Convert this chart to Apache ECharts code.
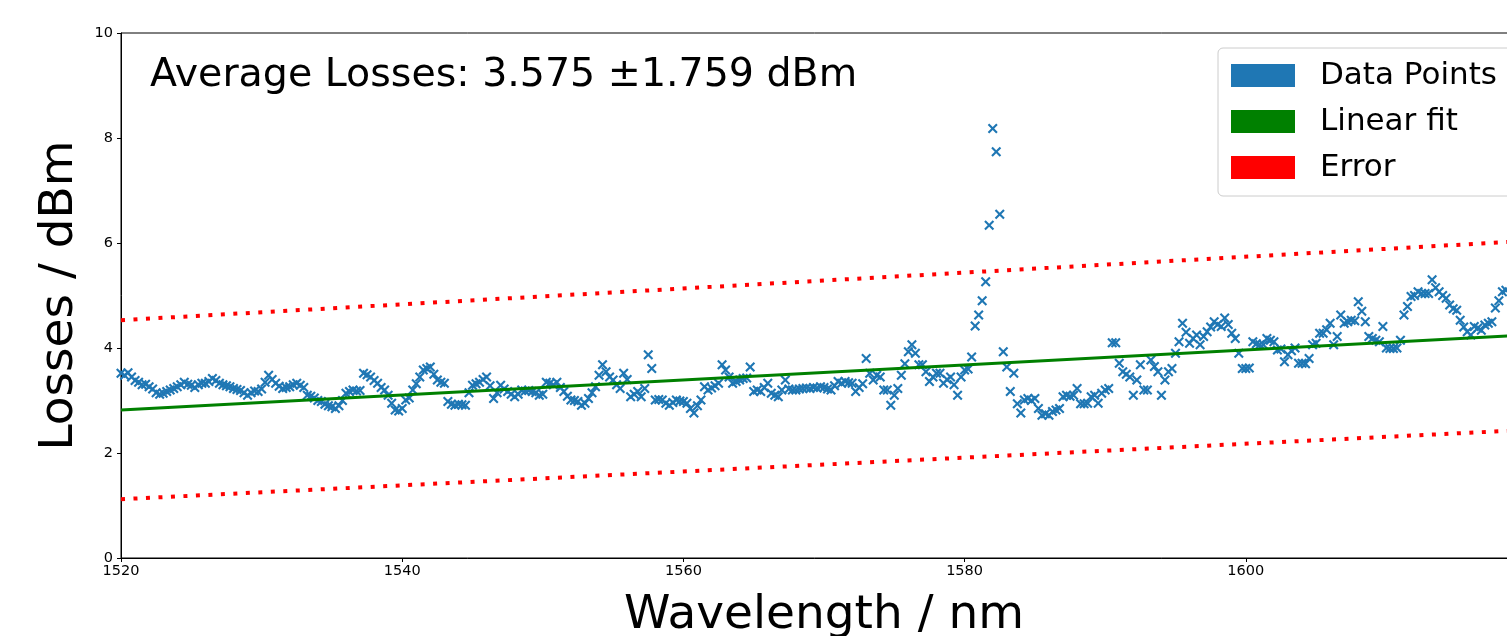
<!DOCTYPE html>
<html>
<head>
<meta charset="utf-8">
<script src="https://cdn.jsdelivr.net/npm/echarts@6/dist/echarts.min.js"></script>
<style>
html,body{margin:0;padding:0;background:#fff;}
#chart{width:1507px;height:636px;}
</style>
</head>
<body>
<div id="chart"></div>
<script>
// Sampling grid of the measurement (nm)
const startNm = 1520;
const stepNm = 0.25;
// Measured losses (dBm), one value per 0.25 nm step from 1520 nm
const losses = [
  3.52, 3.48, 3.53, 3.45,  3.38, 3.35, 3.30, 3.31,  3.26, 3.22, 3.15, 3.12,  3.14, 3.17, 3.20, 3.23,
  3.26, 3.30, 3.35, 3.31,  3.29, 3.25, 3.30, 3.33,  3.33, 3.36, 3.42, 3.38,  3.33, 3.30, 3.28, 3.26,
  3.23, 3.21, 3.19, 3.15,  3.10, 3.15, 3.18, 3.17,  3.22, 3.35, 3.48, 3.40,  3.33, 3.27, 3.23, 3.25,
  3.26, 3.30, 3.33, 3.29,  3.25, 3.10, 3.08, 3.05,  3.00, 2.98, 2.93, 2.90,  2.88, 2.85, 2.90, 3.00,
  3.14, 3.17, 3.20, 3.18,  3.19, 3.52, 3.49, 3.45,  3.38, 3.33, 3.25, 3.20,  3.10, 2.95, 2.82, 2.80,
  2.85, 3.01, 3.05, 3.20,  3.32, 3.45, 3.58, 3.61,  3.64, 3.50, 3.39, 3.35,  3.33, 2.98, 2.93, 2.91,
  2.93, 2.92, 2.91, 3.15,  3.29, 3.32, 3.35, 3.40,  3.45, 3.28, 3.04, 3.15,  3.29, 3.22, 3.17, 3.12,
  3.07, 3.12, 3.20, 3.18,  3.19, 3.17, 3.15, 3.10,  3.12, 3.35, 3.33, 3.30,  3.35, 3.25, 3.17, 3.08,
  3.01, 3.00, 2.98, 2.91,  2.95, 3.04, 3.15, 3.26,  3.48, 3.68, 3.55, 3.45,  3.39, 3.30, 3.23, 3.52,
  3.40, 3.07, 3.12, 3.17,  3.07, 3.23, 3.87, 3.61,  3.01, 3.02, 3.01, 2.95,  2.91, 2.96, 3.01, 2.99,
  2.98, 2.95, 2.85, 2.76,  2.90, 3.01, 3.26, 3.20,  3.24, 3.28, 3.33, 3.68,  3.58, 3.45, 3.33, 3.36,
  3.39, 3.42, 3.43, 3.64,  3.17, 3.20, 3.17, 3.25,  3.33, 3.14, 3.10, 3.07,  3.20, 3.39, 3.22, 3.20,
  3.20, 3.22, 3.23, 3.24,  3.23, 3.25, 3.24, 3.26,  3.25, 3.22, 3.20, 3.28,  3.36, 3.33, 3.36, 3.34,
  3.33, 3.17, 3.25, 3.32,  3.80, 3.52, 3.39, 3.48,  3.45, 3.20, 3.20, 2.91,  3.10, 3.23, 3.48, 3.70,
  3.93, 4.06, 3.90, 3.68,  3.68, 3.55, 3.36, 3.45,  3.52, 3.52, 3.33, 3.40,  3.45, 3.30, 3.10, 3.45,
  3.58, 3.60, 3.83, 4.42,  4.63, 4.90, 5.26, 6.34,  8.18, 7.74, 6.55, 3.93,  3.64, 3.17, 3.52, 2.94,
  2.76, 3.01, 3.04, 3.00,  3.04, 2.85, 2.72, 2.75,  2.72, 2.79, 2.82, 2.85,  3.07, 3.10, 3.08, 3.10,
  3.23, 2.94, 2.94, 2.95,  3.07, 3.10, 2.95, 3.14,  3.20, 3.23, 4.10, 4.10,  3.71, 3.55, 3.50, 3.45,
  3.10, 3.39, 3.68, 3.20,  3.20, 3.77, 3.65, 3.55,  3.10, 3.39, 3.55, 3.61,  3.90, 4.12, 4.47, 4.30,
  4.09, 4.18, 4.25, 4.06,  4.22, 4.31, 4.40, 4.50,  4.45, 4.41, 4.57, 4.45,  4.28, 4.18, 3.90, 3.61,
  3.61, 3.62, 4.12, 4.08,  4.06, 4.06, 4.18, 4.15,  4.12, 3.96, 3.98, 3.74,  3.87, 3.95, 4.00, 3.71,
  3.71, 3.70, 3.80, 4.06,  4.09, 4.28, 4.28, 4.35,  4.47, 4.06, 4.22, 4.63,  4.47, 4.50, 4.53, 4.52,
  4.88, 4.70, 4.50, 4.22,  4.18, 4.15, 4.12, 4.41,  4.00, 3.99, 3.99, 4.00,  4.15, 4.63, 4.79, 4.98,
  5.00, 5.07, 5.04, 5.04,  5.04, 5.30, 5.15, 5.07,  5.00, 4.95, 4.82, 4.75,  4.72, 4.53, 4.40, 4.31,
  4.25, 4.41, 4.38, 4.34,  4.44, 4.47, 4.50, 4.76,  4.90, 5.07, 5.10
];
// Linear fit and error band end points
const lineX = [1520, 1620];
const fitY = [2.82, 4.25];
const errUpperY = [4.53, 6.04];
const errLowerY = [1.12, 2.44];
const legendNames = ['Data Points', 'Linear fit', 'Error'];
const titleText = 'Average Losses: 3.575 \u00b11.759 dBm';
const xTicks = {min: 1520, max: 1620, interval: 20};
const yTicks = {min: 0, max: 10, interval: 2};

const points = losses.map((v, i) => [startNm + i * stepNm, v]);
const pair = (ys) => lineX.map((x, i) => [x, ys[i]]);

const FONT = 'DejaVu Sans';
const xMarker = 'path://M0,1.5L1.5,0L5,3.5L8.5,0L10,1.5L6.5,5L10,8.5L8.5,10L5,6.5L1.5,10L0,8.5L3.5,5Z';

const chart = echarts.init(document.getElementById('chart'), null, {renderer: 'canvas'});
chart.setOption({
  animation: false,
  backgroundColor: '#fff',
  textStyle: {fontFamily: FONT},
  grid: {left: 121, top: 33, right: -20, bottom: 78, show: true, borderColor: '#000', borderWidth: 1, outerBoundsMode: 'none'},
  title: {
    text: titleText, left: 150, top: 56, padding: 0,
    textStyle: {fontFamily: FONT, fontSize: 39.5, fontWeight: 'normal', color: '#000'}
  },
  legend: {
    data: legendNames, orient: 'vertical', left: 1218, top: 48,
    icon: 'rect', itemWidth: 64, itemHeight: 23, itemGap: 15,
    padding: [12, 300, 13, 13],
    backgroundColor: '#fff', borderColor: '#ccc', borderWidth: 1, borderRadius: 5,
    itemStyle: {borderWidth: 0},
    textStyle: {fontFamily: FONT, fontSize: 31, color: '#000', lineHeight: 31, padding: [0, 0, 0, 20]}
  },
  xAxis: {
    type: 'value', min: xTicks.min, max: xTicks.max, interval: xTicks.interval,
    name: 'Wavelength / nm', nameLocation: 'middle', nameGap: 34,
    nameTextStyle: {fontFamily: FONT, fontSize: 47, color: '#000'},
    axisLine: {show: true, lineStyle: {color: '#000', width: 1}},
    axisTick: {show: true, length: 4, lineStyle: {color: '#000'}},
    axisLabel: {fontFamily: FONT, fontSize: 14.5, color: '#000', margin: 6, showMaxLabel: false,
      formatter: (v) => String(v)},
    splitLine: {show: false}
  },
  yAxis: {
    type: 'value', min: yTicks.min, max: yTicks.max, interval: yTicks.interval,
    name: 'Losses / dBm', nameLocation: 'middle', nameGap: 38, nameRotate: 90,
    nameTextStyle: {fontFamily: FONT, fontSize: 47, color: '#000'},
    axisLine: {show: true, lineStyle: {color: '#000', width: 1}},
    axisTick: {show: true, length: 4, lineStyle: {color: '#000'}},
    axisLabel: {fontFamily: FONT, fontSize: 14.5, color: '#000', margin: 8,
      formatter: (v) => String(v)},
    splitLine: {show: false}
  },
  series: [
    {
      name: 'Data Points', type: 'scatter', data: points,
      symbol: xMarker, symbolSize: 10,
      itemStyle: {color: '#1f77b4', opacity: 1}, z: 2
    },
    {
      name: 'Linear fit', type: 'line', data: pair(fitY), showSymbol: false, symbol: 'none',
      itemStyle: {color: '#008000'}, lineStyle: {color: '#008000', width: 3}, z: 3
    },
    {
      name: 'Error', type: 'line', data: pair(errUpperY), showSymbol: false, symbol: 'none',
      itemStyle: {color: '#ff0000'}, lineStyle: {color: '#ff0000', width: 4, type: [4, 8.5]}, z: 3
    },
    {
      name: 'Error', type: 'line', data: pair(errLowerY), showSymbol: false, symbol: 'none',
      itemStyle: {color: '#ff0000'}, lineStyle: {color: '#ff0000', width: 4, type: [4, 8.5]}, z: 3
    }
  ]
});
</script>
</body>
</html>
